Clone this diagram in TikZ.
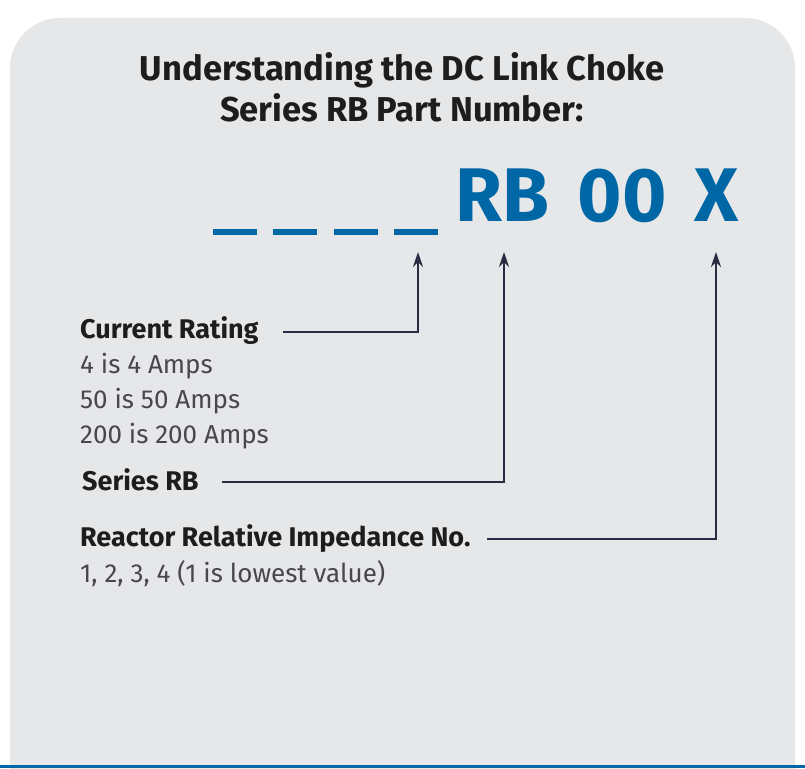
\documentclass[tikz,border=0pt]{standalone}
\usepackage{fontspec}
\setmainfont{Fira Sans}
\usetikzlibrary{arrows.meta}
\definecolor{panelgray}{HTML}{E6E7E8}
\definecolor{partblue}{HTML}{0067A6}
\definecolor{linenavy}{HTML}{2A2C44}
\definecolor{headblack}{HTML}{1E1C1D}
\definecolor{bodygray}{HTML}{48484B}
\tikzset{
  head/.style={font=\bfseries\fontsize{27}{32}\selectfont, text=headblack, anchor=base west, inner sep=0pt},
  body/.style={font=\fontsize{26}{30}\selectfont, text=bodygray, anchor=base west, inner sep=0pt},
  part/.style={font=\bfseries\fontsize{76}{80}\selectfont, text=partblue, anchor=base, inner sep=0pt},
  lead/.style={draw=linenavy, line width=2.4pt, -{Stealth[length=15pt, width=10pt]}},
}
\begin{document}
\begin{tikzpicture}[x=1pt, y=-1pt]
  \fill[white] (0,0) rectangle (805,768);
  \useasboundingbox (0,0) rectangle (805,768);
  % panel
  \fill[panelgray, rounded corners=50pt] (10,18) rectangle (795,840);
  \fill[partblue] (0,765) rectangle (805,768);
  % title
  \node[font=\bfseries\fontsize{34.5}{40}\selectfont, text=headblack, anchor=base] (title1) at (402,81) {Understanding the DC Link Choke};
  \node[font=\bfseries\fontsize{34.5}{40}\selectfont, text=headblack, anchor=base] (title2) at (402,121) {Series RB Part Number:};
  % part number
  \foreach \i/\xa in {1/213, 2/273, 3/334, 4/394}
    \draw[partblue, line width=6.5pt] (\xa,232) -- ++(44,0) coordinate (blank\i);
  \node[part] (rb) at (502,221) {RB};
  \node[part] (zz) at (622,221) {00};
  \node[part] (xx) at (717,221) {X};
  \coordinate (tipA) at (418,252);
  \coordinate (tipB) at (504,252);
  \coordinate (tipC) at (716,252);
  % labels
  \node[head] (cur) at (80,338) {Current Rating};
  \node[body] (cur1) at (80,373) {4 is 4 Amps};
  \node[body] (cur2) at (80,408) {50 is 50 Amps};
  \node[body] (cur3) at (80,443) {200 is 200 Amps};
  \node[head] (ser) at (82,490) {Series RB};
  \node[head] (rea) at (80,546) {Reactor Relative Impedance No.};
  \node[body] (rea1) at (80,582) {1, 2, 3, 4 (1 is lowest value)};
  % leaders
  \coordinate (startA) at (283,332);
  \coordinate (startB) at (222,482);
  \coordinate (startC) at (487,539);
  \draw[lead] (startA) -| (tipA);
  \draw[lead] (startB) -| (tipB);
  \draw[lead] (startC) -| (tipC);
\end{tikzpicture}
\end{document}
